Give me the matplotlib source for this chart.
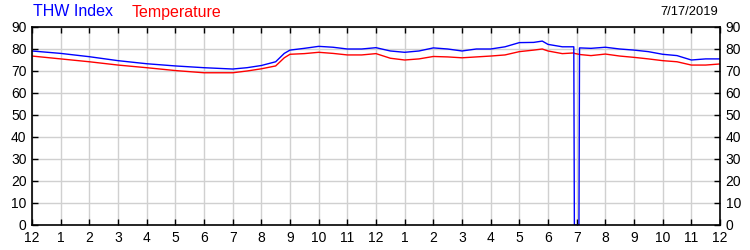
import matplotlib
matplotlib.use("Agg")
import matplotlib.pyplot as plt

plt.rcParams['font.family'] = ['Liberation Sans', 'DejaVu Sans']

hours = [0, 1, 2, 3, 4, 5, 6, 7, 7.5, 8, 8.5, 8.8, 9, 9.5, 10, 10.5, 11, 11.5,
         12, 12.5, 13, 13.5, 14, 14.5, 15, 15.5, 16, 16.5, 17, 17.5, 17.8, 18,
         18.5, 18.9, 18.92, 19.08, 19.1, 19.5, 20, 20.5, 21, 21.5, 22, 22.5,
         23, 23.5, 24]
thw_index = [79.1, 78.0, 76.5, 74.7, 73.3, 72.3, 71.5, 70.9, 71.5, 72.5, 74.2,
             78.0, 79.5, 80.3, 81.2, 80.8, 80.0, 80.0, 80.6, 79.1, 78.5, 79.1,
             80.5, 80.0, 79.1, 80.0, 80.0, 81.0, 82.9, 83.0, 83.6, 82.1, 81.0,
             81.0, 0.0, 0.0, 80.5, 80.3, 80.8, 80.0, 79.5, 78.8, 77.6, 77.0,
             75.0, 75.5, 75.5]
temperature = [76.8, 75.5, 74.2, 72.7, 71.5, 70.2, 69.2, 69.2, 70.0, 71.0, 72.3,
               76.0, 77.6, 77.9, 78.5, 78.0, 77.3, 77.3, 77.9, 75.8, 75.0, 75.5,
               76.6, 76.4, 76.0, 76.4, 76.8, 77.3, 78.8, 79.5, 80.0, 79.1, 77.9,
               78.2, 78.0, 77.6, 77.5, 77.0, 77.7, 76.8, 76.2, 75.5, 74.7, 74.2,
               72.7, 72.7, 73.2]
x_tick_labels = ['12', '1', '2', '3', '4', '5', '6', '7', '8', '9', '10', '11',
                 '12', '1', '2', '3', '4', '5', '6', '7', '8', '9', '10', '11', '12']
y_ticks = [0, 10, 20, 30, 40, 50, 60, 70, 80, 90]
date_label = '7/17/2019'

fig = plt.figure(figsize=(7.5, 2.5), dpi=100)
ax = fig.add_axes([32/750, 25/250, (720-32)/750, (224-26)/250])

ax.plot(hours, temperature, color='#ff0000', lw=1.0)
ax.plot(hours, thw_index, color='#0000ff', lw=1.0)

ax.set_xlim(0, 24)
ax.set_ylim(0, 90)
ax.set_xticks(range(25))
ax.set_xticklabels(x_tick_labels)
ax.set_yticks(y_ticks)
ax.grid(True, color='#d0d0d0', lw=1.0)
ax.set_axisbelow(True)
for s in ax.spines.values():
    s.set_linewidth(1.2)
    s.set_color('black')
ax.tick_params(direction='in', top=True, right=True, labelright=True,
               length=4, width=1, labelsize=10, pad=4, colors='black')

fig.text(33/750, 1 - 12/250, 'THW Index', color='#0000ff', fontsize=11.5, va='center', ha='left')
fig.text(132/750, 1 - 12/250, 'Temperature', color='#ff0000', fontsize=11.5, va='center', ha='left')
fig.text(718/750, 1 - 12/250, date_label, color='black', fontsize=9.3, va='center', ha='right')

fig.savefig('out.png', dpi=100)
